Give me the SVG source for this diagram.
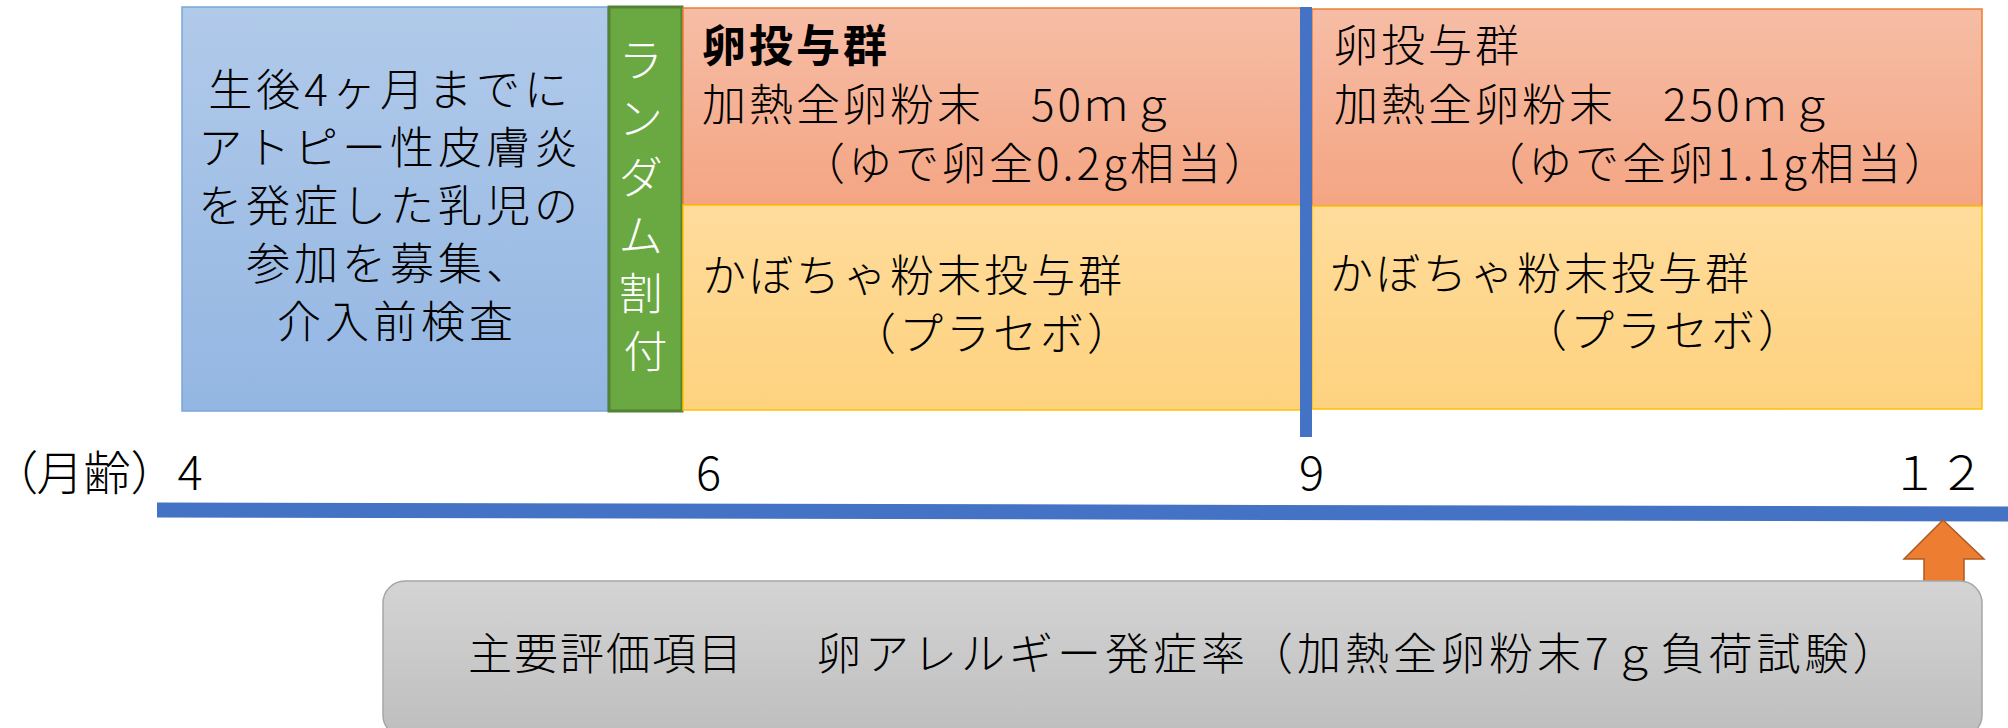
<svg xmlns="http://www.w3.org/2000/svg" width="2008" height="728" viewBox="0 0 2008 728">
<defs>
<linearGradient id="gBlue" x1="0" y1="0" x2="0" y2="1"><stop offset="0" stop-color="#B1CAEA"/><stop offset="1" stop-color="#93B6E2"/></linearGradient>
<linearGradient id="gOrange" x1="0" y1="0" x2="0" y2="1"><stop offset="0" stop-color="#F6BDA6"/><stop offset="1" stop-color="#F4A583"/></linearGradient>
<linearGradient id="gYellow" x1="0" y1="0" x2="0" y2="1"><stop offset="0" stop-color="#FFDC9C"/><stop offset="1" stop-color="#FED27E"/></linearGradient>
<linearGradient id="gGray" x1="0" y1="0" x2="0" y2="1"><stop offset="0" stop-color="#D4D4D4"/><stop offset="1" stop-color="#BEBEBE"/></linearGradient>
<style>
.t{font-family:"Noto Sans CJK JP","Noto Sans",sans-serif;font-size:44px;font-weight:300;fill:#000;letter-spacing:3px}
.w{fill:#fff;letter-spacing:0}
.ax{font-family:"Noto Sans CJK JP","Noto Sans",sans-serif;font-size:47px;font-weight:300;fill:#000}
.blue{fill:url(#gBlue);stroke:#7AA6DA;stroke-width:1.5}
.green{fill:#6AA842;stroke:#538135;stroke-width:3}
.orange{fill:url(#gOrange);stroke:#ED7D31;stroke-width:1.5}
.yellow{fill:url(#gYellow);stroke:#FFC000;stroke-width:1.5}
.gray{fill:url(#gGray);stroke:#A6A6A6;stroke-width:1.5}
</style>
</defs>
<rect width="2008" height="728" fill="#fff"/>

<g id="enroll">
<rect class="blue" x="182" y="7" width="426" height="404"/>
<text class="t" text-anchor="middle" style="letter-spacing:4px">
<tspan x="397" y="106">生後4ヶ月までに</tspan>
<tspan x="397" y="164">アトピー性皮膚炎</tspan>
<tspan x="397" y="222">を発症した乳児の</tspan>
<tspan x="397" y="280">参加を募集、</tspan>
<tspan x="397" y="338">介入前検査</tspan>
</text>
</g>

<g id="randomize">
<rect class="green" x="609" y="7" width="73" height="404"/>
<text class="t w" text-anchor="middle">
<tspan x="645.5" y="77">ラ</tspan>
<tspan x="645.5" y="135">ン</tspan>
<tspan x="645.5" y="194">ダ</tspan>
<tspan x="645.5" y="252">ム</tspan>
<tspan x="645.5" y="310">割</tspan>
<tspan x="645.5" y="368">付</tspan>
</text>
</g>

<g id="egg-low">
<rect class="orange" x="683" y="8" width="619" height="197"/>
<text class="t">
<tspan x="702" y="62" font-weight="bold">卵投与群</tspan>
<tspan x="702" y="121">加熱全卵粉末　50ｍｇ</tspan>
<tspan x="801" y="180">（ゆで卵全0.2g相当）</tspan>
</text>
</g>

<g id="placebo-low">
<rect class="yellow" x="683" y="205" width="619" height="205"/>
<text class="t">
<tspan x="702" y="292">かぼちゃ粉末投与群</tspan>
<tspan x="852" y="350">（プラセボ）</tspan>
</text>
</g>

<g id="egg-high">
<rect class="orange" x="1312" y="9" width="670" height="197"/>
<text class="t">
<tspan x="1334" y="62">卵投与群</tspan>
<tspan x="1334" y="121">加熱全卵粉末　250ｍｇ</tspan>
<tspan x="1481" y="180">（ゆで全卵1.1g相当）</tspan>
</text>
</g>

<g id="placebo-high">
<rect class="yellow" x="1312" y="206" width="670" height="203"/>
<text class="t">
<tspan x="1329" y="290">かぼちゃ粉末投与群</tspan>
<tspan x="1523" y="347">（プラセボ）</tspan>
</text>
</g>

<g id="axis-labels">
<text class="ax" x="13" y="490" font-size="46"><tspan style="font-feature-settings:'palt' 1">（</tspan>月齢）4</text>
<text class="ax" x="696" y="490">6</text>
<text class="ax" x="1299" y="490">9</text>
<text class="ax" x="1891" y="490">１２</text>
</g>

<g id="connectors">
<line x1="157" y1="510" x2="2008" y2="514" stroke="#4472C4" stroke-width="15"/>
<rect x="1300" y="7" width="12" height="430" fill="#4472C4"/>
<polygon points="1943,520 1984,559 1964,559 1964,592 1924,592 1924,559 1904,559" fill="#ED7D31" stroke="#AE5A21" stroke-width="1.5"/>
</g>

<g id="outcome">
<rect class="gray" x="383" y="581" width="1599" height="156" rx="22" ry="22"/>
<text class="t" y="670" style="letter-spacing:2px">
<tspan x="468">主要評価項目</tspan>
<tspan x="817" style="letter-spacing:4px">卵アレルギー発症率（加熱全卵粉末7ｇ負荷試験）</tspan>
</text>
</g>
</svg>
